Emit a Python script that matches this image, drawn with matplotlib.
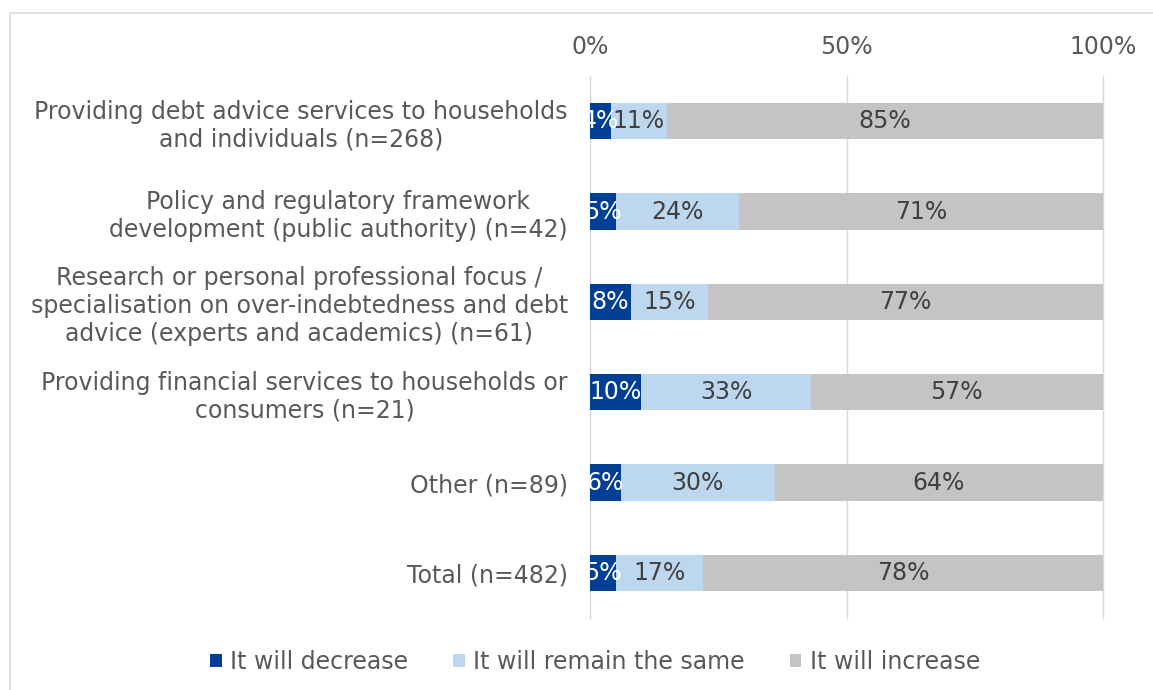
import matplotlib
matplotlib.use("Agg")
import matplotlib.pyplot as plt
from matplotlib.patches import Rectangle
import numpy as np

categories = [
    "Providing debt advice services to households\nand individuals (n=268)",
    "Policy and regulatory framework\ndevelopment (public authority) (n=42)",
    "Research or personal professional focus /\nspecialisation on over-indebtedness and debt\nadvice (experts and academics) (n=61)",
    "Providing financial services to households or\nconsumers (n=21)",
    "Other (n=89)",
    "Total (n=482)",
]
decrease = [4, 5, 8, 10, 6, 5]
same = [11, 24, 15, 33, 30, 17]
increase = [85, 71, 77, 57, 64, 78]
series_names = ["It will decrease", "It will remain the same", "It will increase"]
tick_values = [0, 50, 100]
tick_labels = ["0%", "50%", "100%"]

colors = ["#003f94", "#bdd7ee", "#c4c4c4"]
label_colors = ["white", "#404040", "#404040"]
text_color = "#595959"
font = "DejaVu Sans"
fs = 17

fig = plt.figure(figsize=(11.53, 6.9), dpi=100)
fig.patch.set_facecolor("white")

# light frame around the chart area
fig.add_artist(Rectangle((10 / 1153, -0.1), 1.2, (690 - 13) / 690 + 0.1,
                         transform=fig.transFigure, fill=False,
                         edgecolor="#d9d9d9", linewidth=1.2))

ax = fig.add_axes([590 / 1153, 72 / 690, 513 / 1153, 542 / 690])
y = np.arange(len(categories))
left = np.zeros(len(categories))
for vals, col, lcol, name in zip([decrease, same, increase], colors, label_colors, series_names):
    ax.barh(y, vals, left=left, height=0.4, color=col, label=name, zorder=3)
    for yi, l, v in zip(y, left, vals):
        t = ax.text(l + v / 2, yi, f"{v}%", ha="center", va="center",
                    color=lcol, fontsize=fs, family=font, zorder=4)
        t.set_clip_on(True)
        t.set_clip_box(ax.bbox)
    left = left + np.array(vals)

ax.set_xlim(0, 100)
ax.set_ylim(len(categories) - 0.5, -0.5)
ax.set_xticks(tick_values)
ax.set_xticklabels(tick_labels)
ax.xaxis.tick_top()
ax.tick_params(axis="x", length=0, pad=12, labelsize=fs, labelcolor=text_color)
ax.set_yticks(y)
ax.set_yticklabels(categories)
ax.tick_params(axis="y", length=0, pad=16, labelsize=fs, labelcolor=text_color)
for lab in ax.get_yticklabels() + ax.get_xticklabels():
    lab.set_family(font)
for lab in ax.get_yticklabels():
    lab.set_multialignment("center")
    lab.set_linespacing(1.2)

ax.grid(axis="x", color="#d9d9d9", linewidth=1, zorder=0)
for gl in ax.get_xgridlines():
    gl.set_clip_on(False)
for s in ["top", "right", "bottom"]:
    ax.spines[s].set_visible(False)
ax.spines["left"].set_color("#d9d9d9")

handles, labels = ax.get_legend_handles_labels()
leg = fig.legend(handles, labels, loc="center", bbox_to_anchor=(595 / 1153, 1 - 662 / 690),
                 ncol=3, frameon=False, handlelength=0.5, handleheight=0.5,
                 handletextpad=0.35, columnspacing=1.9,
                 prop={"family": font, "size": fs})
for t in leg.get_texts():
    t.set_color(text_color)

fig.savefig("out.png", dpi=100, facecolor="white")
